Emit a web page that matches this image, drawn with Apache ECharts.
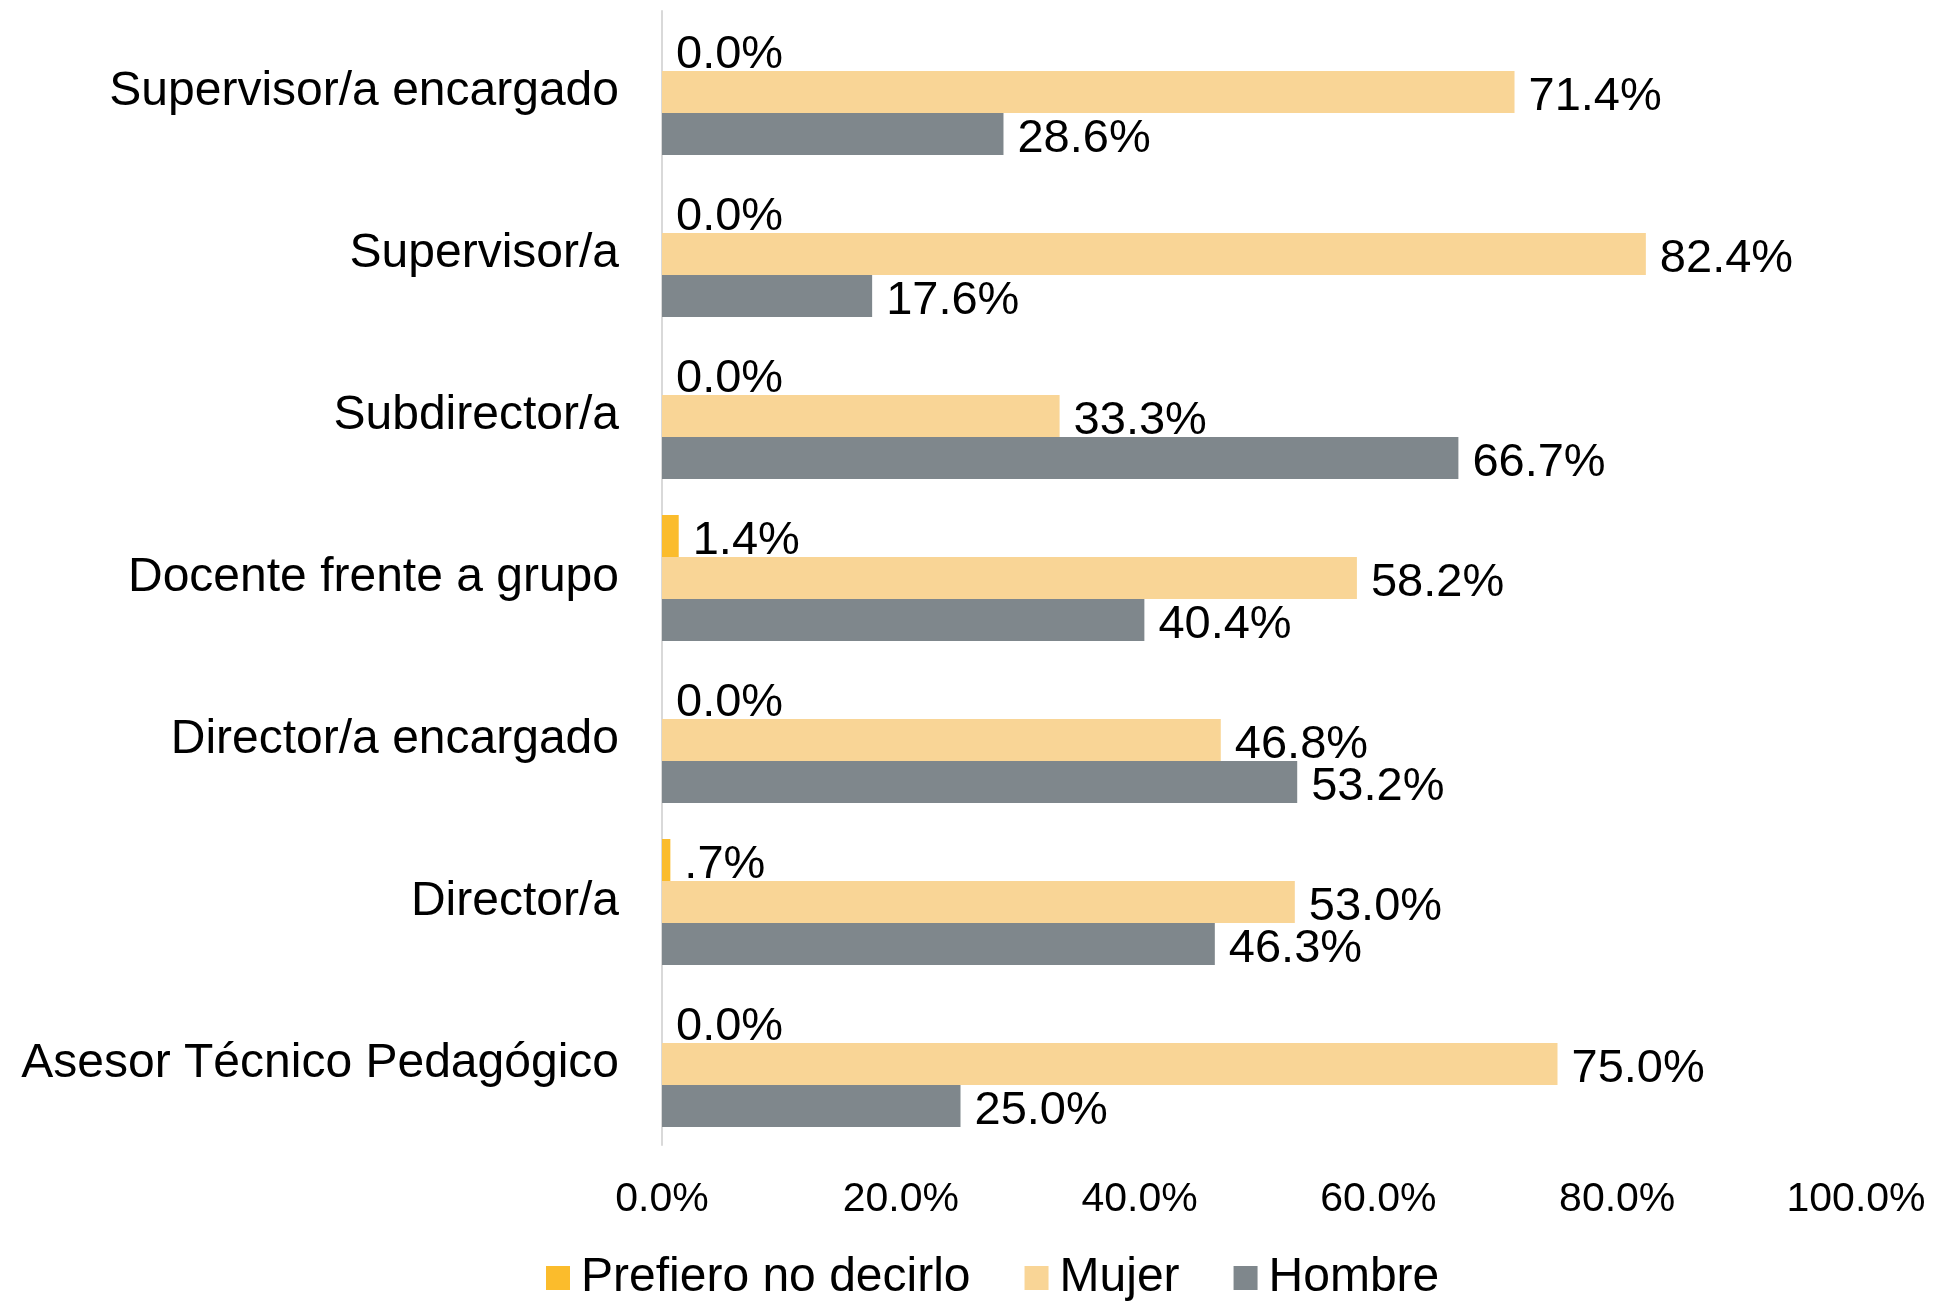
<!DOCTYPE html>
<html>
<head>
<meta charset="utf-8">
<script src="https://cdn.jsdelivr.net/npm/echarts@6/dist/echarts.min.js"></script>
<style>
  html, body { margin: 0; padding: 0; background: #fff; }
  #chart { width: 1935px; height: 1301px; }
</style>
</head>
<body>
<div id="chart"></div>
<script>
// top to bottom as shown
const categories = ['Supervisor/a encargado', 'Supervisor/a', 'Subdirector/a', 'Docente frente a grupo', 'Director/a encargado', 'Director/a', 'Asesor Técnico Pedagógico']
const prefiero = [0, 0, 0, 1.4, 0, 0.7, 0]
const mujer = [71.4, 82.4, 33.3, 58.2, 46.8, 53.0, 75.0]
const hombre = [28.6, 17.6, 66.7, 40.4, 53.2, 46.3, 25.0]
const seriesNames = ['Prefiero no decirlo', 'Mujer', 'Hombre']
const colors = ['#FBBC2C', '#F9D596', '#7F878C']

const font = "'Liberation Sans', Arial, sans-serif"

const fmtPct = v => {
  let s = v.toFixed(1)
  if (v > 0 && v < 1) s = s.replace(/^0/, '')
  return s + '%'
}

const mkSeries = (name, data, color) => ({
  name,
  type: 'bar',
  data,
  barWidth: 42,
  barGap: '0%',
  itemStyle: { color },
  label: {
    show: true,
    position: 'right',
    distance: 14,
    offset: [0, 5],
    color: '#000',
    fontSize: 47,
    fontFamily: font,
    formatter: p => fmtPct(p.value)
  }
})

const chart = echarts.init(document.getElementById('chart'))
chart.setOption({
  animation: false,
  textStyle: { fontFamily: font },
  color: colors,
  grid: { left: 662, right: 79, top: 11, bottom: 156, containLabel: false },
  legend: {
    data: seriesNames,
    bottom: -6,
    left: 541,
    itemWidth: 24,
    itemHeight: 24,
    itemGap: 54,
    icon: 'rect',
    textStyle: { fontSize: 48, color: '#000', fontFamily: font, padding: [0, 0, 0, 6] }
  },
  xAxis: {
    type: 'value',
    min: 0,
    max: 100,
    interval: 20,
    axisLine: { show: false },
    axisTick: { show: false },
    splitLine: { show: false },
    axisLabel: { fontSize: 41, color: '#000', margin: 34, formatter: v => v.toFixed(1) + '%' }
  },
  yAxis: {
    type: 'category',
    data: categories,
    inverse: true,
    axisLine: { show: true, lineStyle: { color: '#D9D9D9', width: 2 } },
    axisTick: { show: false },
    axisLabel: { fontSize: 48, color: '#000', margin: 43 }
  },
  series: [
    mkSeries(seriesNames[0], prefiero, colors[0]),
    mkSeries(seriesNames[1], mujer, colors[1]),
    mkSeries(seriesNames[2], hombre, colors[2])
  ]
})
</script>
</body>
</html>
